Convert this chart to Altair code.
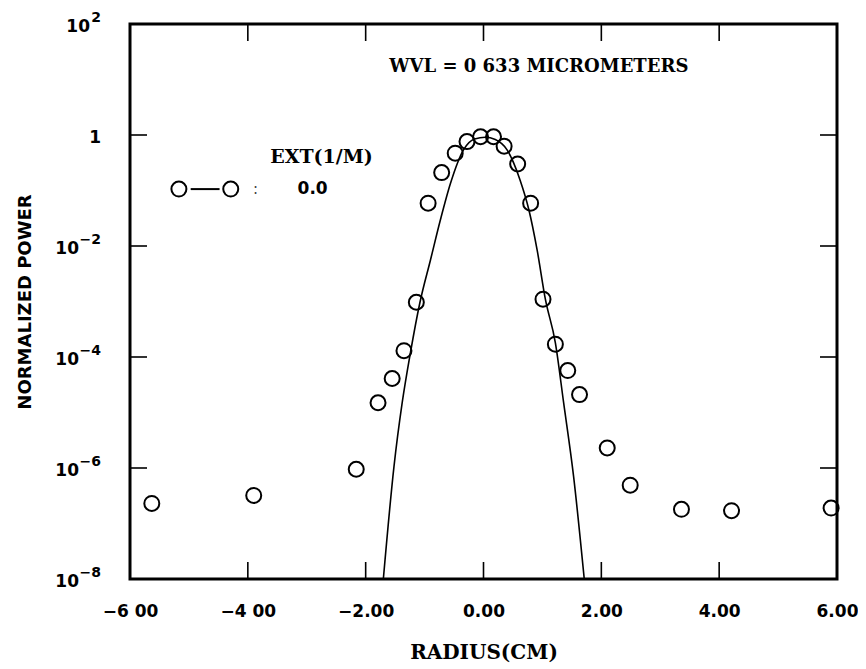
import altair as alt
import pandas as pd

# ---- data ----
# measured points (open circles)
pt_x = [-5.63, -3.90, -2.16, -1.79, -1.55, -1.35, -1.14, -0.94, -0.71, -0.48, -0.28, -0.05,
        0.17, 0.35, 0.58, 0.80, 1.01, 1.22, 1.43, 1.63, 2.10, 2.49, 3.36, 4.21, 5.90]
pt_y = [2.3e-7, 3.2e-7, 9.5e-7, 1.5e-5, 4.1e-5, 1.3e-4, 9.7e-4, 5.9e-2, 0.21, 0.47, 0.76, 0.93,
        0.93, 0.63, 0.30, 5.9e-2, 1.1e-3, 1.7e-4, 5.7e-5, 2.1e-5, 2.3e-6, 4.9e-7, 1.8e-7, 1.7e-7, 1.9e-7]

# solid curve
curve_x = [-1.70, -1.52, -1.38, -1.24, -1.08, -0.90, -0.73, -0.56, -0.34, -0.15, 0.03,
           0.20, 0.40, 0.62, 0.77, 0.91, 1.05, 1.22, 1.36, 1.53, 1.71]
curve_y = [1e-8, 1.05e-6, 1.5e-5, 1.2e-4, 9.5e-4, 5.6e-3, 3.0e-2, 0.135, 0.54, 0.85, 0.91,
           0.83, 0.54, 0.155, 0.045, 8.5e-3, 1.1e-3, 1.8e-4, 1.5e-5, 6.9e-7, 1e-8]

# axes
x_tick_vals = [-6, -4, -2, 0, 2, 4, 6]
x_tick_labels = ["\u22126 00", "\u22124 00", "\u22122.00", "0.00", "2.00", "4.00", "6.00"]
x_inner_ticks = [-4, -2, 0, 2, 4]
y_tick_vals = [1e-8, 1e-6, 1e-4, 1e-2, 1, 1e2]
y_base = ["10", "10", "10", "10", "1", "10"]
y_exp = ["\u22128", "\u22126", "\u22124", "\u22122", "", "2"]
y_inner_ticks = [1e-6, 1e-4, 1e-2, 1]

# annotations
title_text = ["WVL = 0 633 MICROMETERS"]
title_pos = ([0.94], [17])
legend_header = ["EXT(1/M)"]
legend_header_pos = ([-2.75], [0.40])
legend_sym_x = [-5.17, -4.29]
legend_line_x = [-4.97, -4.48]
legend_row_y = 0.106
legend_colon_x = [-3.87]
legend_value = ["0.0"]
legend_value_x = [-2.90]

# ---- chart ----
W, H = 707, 555
TL = 17

xs = alt.Scale(domain=[-6, 6], nice=False, zero=False)
ys = alt.Scale(type="log", domain=[1e-8, 100], nice=False)

x_label_expr = "".join(f"datum.value == {v} ? '{l}' : " for v, l in zip(x_tick_vals, x_tick_labels)) + "''"

xaxis = alt.Axis(values=x_tick_vals, labelExpr=x_label_expr, ticks=False, tickSize=0, domain=False,
                 grid=False, labelPadding=24, labelFont="DejaVu Sans", labelFontSize=17,
                 labelFontWeight="bold", labelColor="black", labelFlush=False, labelOverlap=False,
                 titleFont="DejaVu Serif", titleFontSize=20, titleFontWeight="bold", titleColor="black",
                 titleY=73, titleBaseline="middle")
yaxis = alt.Axis(labels=False, ticks=False, tickSize=0, domain=False, grid=False,
                 titleFont="DejaVu Sans", titleFontSize=18, titleFontWeight="bold", titleColor="black",
                 titleX=-105, titleY=H / 2, titleAngle=270, titleBaseline="middle")


def X():
    return alt.X("x:Q", scale=xs, axis=xaxis, title="RADIUS(CM)")


def Y():
    return alt.Y("y:Q", scale=ys, axis=yaxis, title="NORMALIZED POWER")


pts = pd.DataFrame({"x": pt_x, "y": pt_y})
crv = pd.DataFrame({"x": curve_x, "y": curve_y})

points = alt.Chart(pts).mark_point(shape="circle", filled=False, size=225, strokeWidth=2,
                                   color="black", opacity=1).encode(x=X(), y=Y())
curve = alt.Chart(crv).mark_line(color="black", strokeWidth=1.6, interpolate="monotone").encode(x=X(), y=Y())

xt = pd.DataFrame({"x": x_inner_ticks})
yt = pd.DataFrame({"y": y_inner_ticks})
tick_b = alt.Chart(xt).mark_rule(color="black", strokeWidth=1.6).encode(x=X(), y=alt.value(H - TL), y2=alt.value(H))
tick_t = alt.Chart(xt).mark_rule(color="black", strokeWidth=1.6).encode(x=X(), y=alt.value(0), y2=alt.value(TL))
tick_l = alt.Chart(yt).mark_rule(color="black", strokeWidth=1.6).encode(y=Y(), x=alt.value(0), x2=alt.value(TL))
tick_r = alt.Chart(yt).mark_rule(color="black", strokeWidth=1.6).encode(y=Y(), x=alt.value(W - TL), x2=alt.value(W))

ylab = pd.DataFrame({"y": y_tick_vals, "base": y_base, "exp": y_exp})
px_per_unit = W / 12.0
ylab_base = alt.Chart(ylab).transform_calculate(
    x=f"-6 - (29 + (length(datum.exp) > 1 ? 22 : (length(datum.exp) == 1 ? 11 : 0))) / {px_per_unit}"
).mark_text(align="right", baseline="middle", font="DejaVu Sans", fontSize=17, fontWeight="bold",
            color="black", dy=3).encode(x=X(), y=Y(), text="base:N")
ylab_exp = alt.Chart(ylab).mark_text(align="right", baseline="middle", font="DejaVu Sans", fontSize=14,
                                     fontWeight="bold", color="black", dy=-6).encode(
    x=alt.value(-29), y=Y(), text="exp:N")

ttl = pd.DataFrame({"x": title_pos[0], "y": title_pos[1], "t": title_text})
title = alt.Chart(ttl).mark_text(font="DejaVu Serif", fontSize=18, fontWeight="bold", color="black",
                                 baseline="middle").encode(x=X(), y=Y(), text="t:N")

lh = pd.DataFrame({"x": legend_header_pos[0], "y": legend_header_pos[1], "t": legend_header})
leg_head = alt.Chart(lh).mark_text(font="DejaVu Serif", fontSize=19, fontWeight="bold", color="black",
                                   baseline="middle").encode(x=X(), y=Y(), text="t:N")
ls = pd.DataFrame({"x": legend_sym_x, "y": [legend_row_y] * len(legend_sym_x)})
leg_sym = alt.Chart(ls).mark_point(shape="circle", filled=False, size=225, strokeWidth=2,
                                   color="black", opacity=1).encode(x=X(), y=Y())
ll = pd.DataFrame({"x": [legend_line_x[0]], "x2": [legend_line_x[1]], "y": [legend_row_y]})
leg_line = alt.Chart(ll).mark_rule(color="black", strokeWidth=2).encode(x=X(), x2="x2:Q", y=Y())
lc = pd.DataFrame({"x": legend_colon_x, "y": [legend_row_y], "t": [":"]})
leg_colon = alt.Chart(lc).mark_text(font="DejaVu Sans", fontSize=15, color="#444444",
                                    baseline="middle").encode(x=X(), y=Y(), text="t:N")
lv = pd.DataFrame({"x": legend_value_x, "y": [legend_row_y], "t": legend_value})
leg_val = alt.Chart(lv).mark_text(font="DejaVu Sans", fontSize=17, fontWeight="bold", color="black",
                                  baseline="middle").encode(x=X(), y=Y(), text="t:N")

chart = alt.layer(
    curve, points, tick_b, tick_t, tick_l, tick_r, ylab_base, ylab_exp, title,
    leg_head, leg_sym, leg_line, leg_colon, leg_val
).properties(
    width=W, height=H,
    autosize=alt.AutoSizeParams(type="none"),
    padding={"left": 122, "top": 16, "right": 21, "bottom": 85},
    background="white",
).configure_view(stroke="black", strokeWidth=3)

chart.save("out.html", embed_options={"renderer": "svg", "actions": False})
